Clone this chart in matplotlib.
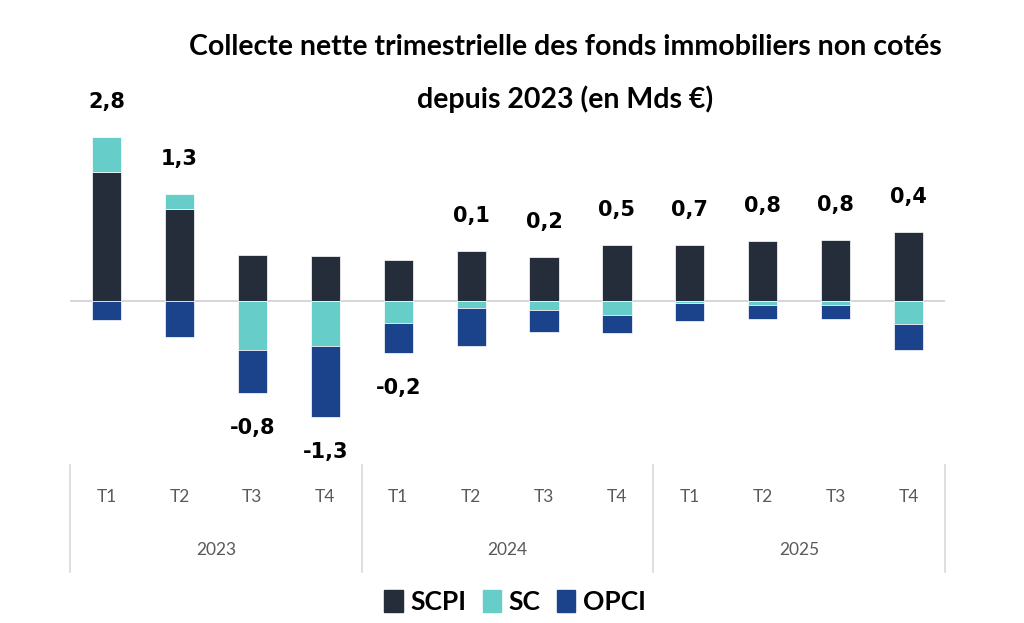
import matplotlib.pyplot as plt
import numpy as np
from matplotlib.patches import Patch
from matplotlib.transforms import blended_transform_factory

# Data (Mds €)
years = ["2023", "2024", "2025"]
quarters = ["T1", "T2", "T3", "T4"] * 3
scpi = [2.43, 1.74, 0.87, 0.85, 0.78, 0.94, 0.83, 1.06, 1.06, 1.14, 1.16, 1.31]
sc = [0.66, 0.28, -0.92, -0.85, -0.42, -0.13, -0.17, -0.26, -0.04, -0.07, -0.07, -0.43]
opci = [-0.35, -0.68, -0.81, -1.33, -0.55, -0.72, -0.42, -0.35, -0.33, -0.27, -0.26, -0.49]
totals = ["2,8", "1,3", "-0,8", "-1,3", "-0,2", "0,1", "0,2", "0,5", "0,7", "0,8", "0,8", "0,4"]

c_scpi = "#262d3a"
c_sc = "#66cdc8"
c_opci = "#1a438c"

fig = plt.figure(figsize=(10.24, 6.23), dpi=100)
ax = fig.add_axes([0.0684, 0.2536, 0.8545, 0.6019])

x = np.arange(len(scpi))
scpi = np.array(scpi)
sc = np.array(sc)
opci = np.array(opci)

# stacking: positives go up from 0, negatives go down from 0
pos_base = np.zeros(len(x))
neg_base = np.zeros(len(x))
for vals, col in [(scpi, c_scpi), (sc, c_sc), (opci, c_opci)]:
    base = np.where(vals >= 0, pos_base, neg_base)
    ax.bar(x, vals, 0.4, bottom=base, color=col, edgecolor="white", linewidth=0.5, zorder=3)
    pos_base = pos_base + np.where(vals >= 0, vals, 0)
    neg_base = neg_base + np.where(vals < 0, vals, 0)

net = scpi + sc + opci
for i in range(len(x)):
    if net[i] >= 0:
        ax.annotate(totals[i], (x[i], pos_base[i]), xytext=(0, 18), textcoords="offset points",
                    ha="center", va="bottom", fontsize=15, fontweight="bold", family="DejaVu Sans")
    else:
        ax.annotate(totals[i], (x[i], neg_base[i]), xytext=(0, -18), textcoords="offset points",
                    ha="center", va="top", fontsize=15, fontweight="bold", family="DejaVu Sans")

ax.axhline(0, color="#d0d0d0", lw=1.2, zorder=2)
ax.set_xlim(-0.5, len(x) - 0.5)
ax.set_ylim(-3.09, 3.98)
ax.axis("off")

# two-level category axis
tr = blended_transform_factory(ax.transData, ax.transAxes)
for i, q in enumerate(quarters):
    ax.text(x[i], -0.085, q, transform=tr, ha="center", va="center", fontsize=12.5,
            color="#595959", family="Lato")
for k, yr in enumerate(years):
    ax.text(4 * k + 1.5, -0.227, yr, transform=tr, ha="center", va="center", fontsize=12.5,
            color="#595959", family="Lato")
for xs in [-0.5, 3.5, 7.5, 11.5]:
    ax.plot([xs, xs], [0, -0.285], transform=tr, color="#d9d9d9", lw=1.2, clip_on=False)

fig.text(0.552, 0.925, "Collecte nette trimestrielle des fonds immobiliers non cotés",
         ha="center", va="center", fontsize=20.5, fontweight="bold", family="Lato")
fig.text(0.552, 0.84, "depuis 2023 (en Mds €)",
         ha="center", va="center", fontsize=20.5, fontweight="bold", family="Lato")

handles = [Patch(color=c_scpi, label="SCPI"), Patch(color=c_sc, label="SC"),
           Patch(color=c_opci, label="OPCI")]
fig.legend(handles=handles, loc="center", bbox_to_anchor=(0.503, 0.034), ncol=3, frameon=False,
           handlelength=0.7, handleheight=0.9, handletextpad=0.3, columnspacing=0.6,
           prop={"family": "Lato", "weight": "bold", "size": 19})

fig.savefig("out.png", dpi=100)
